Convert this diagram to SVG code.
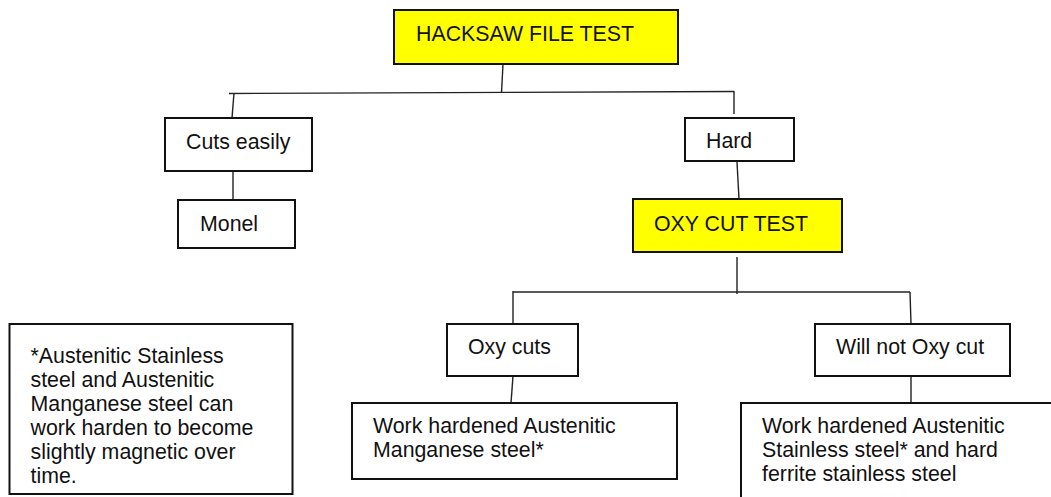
<svg xmlns="http://www.w3.org/2000/svg" width="1051" height="497" viewBox="0 0 1051 497">
<style>
.box{fill:#fff;stroke:#111;stroke-width:2}
.hl{fill:#ffff00;stroke:#111;stroke-width:2}
.t{font-family:"Liberation Sans",Arial,sans-serif;font-size:21.33px;fill:#111}
.c{fill:none;stroke:#222;stroke-width:1.4}
</style>
<rect width="1051" height="497" fill="#fff"/>
<g id="connectors">
<line class="c" x1="503" y1="64" x2="501.5" y2="93"/>
<line class="c" x1="229" y1="93.5" x2="734" y2="91.5"/>
<line class="c" x1="234" y1="93" x2="232" y2="118"/>
<line class="c" x1="734" y1="91" x2="734" y2="114"/>
<line class="c" x1="233" y1="171" x2="233" y2="200"/>
<line class="c" x1="737" y1="162" x2="739" y2="199"/>
<line class="c" x1="737" y1="257" x2="737" y2="294"/>
<line class="c" x1="513" y1="292" x2="910" y2="292"/>
<line class="c" x1="513" y1="291" x2="513" y2="324"/>
<line class="c" x1="910" y1="292" x2="911" y2="324"/>
<line class="c" x1="513" y1="376" x2="511" y2="403"/>
<line class="c" x1="911" y1="376" x2="911" y2="403"/>
</g>
<g id="hacksaw"><rect class="hl" x="394" y="10" width="284" height="54"/><text class="t" x="416" y="41">HACKSAW FILE TEST</text></g>
<g id="cuts-easily"><rect class="box" x="165" y="118" width="147" height="53"/><text class="t" x="186" y="149">Cuts easily</text></g>
<g id="hard"><rect class="box" x="685" y="118" width="109" height="43"/><text class="t" x="706" y="148">Hard</text></g>
<g id="monel"><rect class="box" x="178" y="200" width="117" height="48"/><text class="t" x="200" y="231">Monel</text></g>
<g id="oxy-cut-test"><rect class="hl" x="633" y="199" width="209" height="53"/><text class="t" x="654" y="231">OXY CUT TEST</text></g>
<g id="oxy-cuts"><rect class="box" x="447" y="324" width="131" height="52"/><text class="t" x="468" y="354">Oxy cuts</text></g>
<g id="will-not"><rect class="box" x="815" y="324" width="195" height="52"/><text class="t" x="836" y="354">Will not Oxy cut</text></g>
<g id="manganese"><rect class="box" x="352" y="403" width="325" height="76"/><text class="t" x="373" y="433">Work hardened Austenitic</text><text class="t" x="373" y="457">Manganese steel*</text></g>
<g id="stainless"><rect class="box" x="741" y="403" width="330" height="110"/><text class="t" x="762" y="433">Work hardened Austenitic</text><text class="t" x="762" y="457">Stainless steel* and hard</text><text class="t" x="762" y="481">ferrite stainless steel</text></g>
<g id="note"><rect class="box" x="9.5" y="324" width="283" height="170"/><text class="t" x="30.5" y="363">*Austenitic Stainless</text><text class="t" x="30.5" y="387">steel and Austenitic</text><text class="t" x="30.5" y="411">Manganese steel can</text><text class="t" x="30.5" y="435">work harden to become</text><text class="t" x="30.5" y="459">slightly magnetic over</text><text class="t" x="30.5" y="483">time.</text></g>
</svg>
